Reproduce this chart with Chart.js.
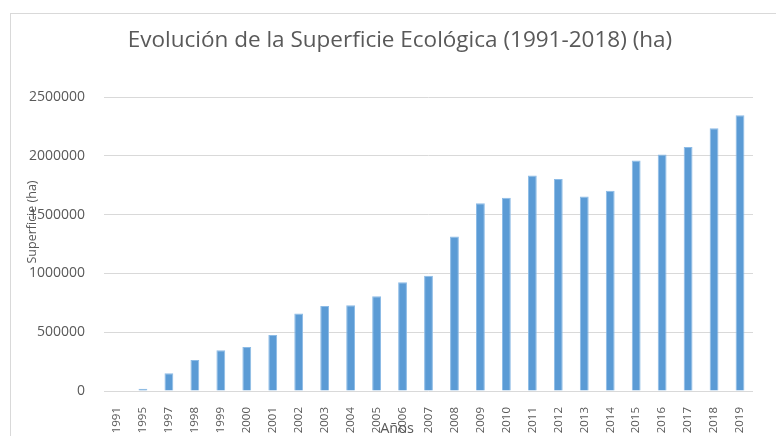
<!DOCTYPE html>
<html>
<head>
<meta charset="utf-8">
<script src="https://cdn.jsdelivr.net/npm/chart.js@4/dist/chart.umd.min.js"></script>
<style>
    html, body { margin: 0; padding: 0; background: #fff; }
    #wrap { position: relative; width: 776px; height: 436px; overflow: hidden; }
    #frame { position: absolute; left: 10px; top: 13px; width: 800px; height: 500px; border: 1px solid #d9d9d9; }
    #chart { position: absolute; left: 0; top: 0; }
</style>
</head>
<body>
<div id="wrap">
    <div id="frame"></div>
    <canvas id="chart" width="776" height="436"></canvas>
</div>
<script>
const years = [
    "1991", "1995", "1997", "1998", "1999", "2000", "2001", "2002", "2003", "2004",
    "2005", "2006", "2007", "2008", "2009", "2010", "2011", "2012", "2013", "2014",
    "2015", "2016", "2017", "2018", "2019"
]

// superficie en hectáreas
const superficie = [
    0, 20000, 150000, 263000, 347000, 375000, 477000, 658000, 723000, 729000,
    805000, 924000, 980000, 1313000, 1596000, 1644000, 1833000, 1803000, 1653000, 1703000,
    1960000, 2011000, 2074000, 2235000, 2345000
]

const yTicks = [0, 500000, 1000000, 1500000, 2000000, 2500000]

const titulo = "Evolución de la Superficie Ecológica (1991-2018) (ha)"
const tituloY = "Superficie (ha)"
const tituloX = "Años"

const gris = "#595959"
const fuente = "'Open Sans', 'Noto Sans', sans-serif"

// título y títulos de ejes, centrados en el marco como en el original
const textos = {
    id: "textos",
    afterDraw(chart) {
        const ctx = chart.ctx
        ctx.save()
        ctx.fillStyle = gris
        ctx.textAlign = "center"
        ctx.textBaseline = "middle"

        ctx.font = "22.5px " + fuente
        ctx.fillText(titulo, 400, 41)

        ctx.font = "14.5px " + fuente
        ctx.fillText(tituloX, 397, 429)

        ctx.font = "12.5px " + fuente
        ctx.translate(32, 222)
        ctx.rotate(-Math.PI / 2)
        ctx.fillText(tituloY, 0, 0)
        ctx.restore()
    }
}

new Chart(document.getElementById("chart"), {
    type: "bar",
    data: {
        labels: years,
        datasets: [{
            data: superficie,
            backgroundColor: "#5b9bd5",
            borderColor: "#8cbbe6",
            borderWidth: { top: 1, left: 1, right: 1, bottom: 0 },
            barPercentage: 0.34,
            categoryPercentage: 1
        }]
    },
    options: {
        responsive: false,
        animation: false,
        devicePixelRatio: 1,
        layout: {
            padding: { left: 0, right: 23, top: 97, bottom: 0 }
        },
        scales: {
            x: {
                grid: { display: false },
                border: { display: false },
                ticks: {
                    color: gris,
                    font: { family: fuente, size: 11.5 },
                    minRotation: 90,
                    maxRotation: 90,
                    autoSkip: false,
                    padding: 8
                },
                afterFit(scale) { scale.height = 45 }
            },
            y: {
                min: 0,
                max: 2500000,
                afterBuildTicks(scale) { scale.ticks = yTicks.map(v => ({ value: v })) },
                grid: { color: "#d9d9d9", drawTicks: false },
                border: { display: false },
                ticks: {
                    color: gris,
                    font: { family: fuente, size: 14 },
                    padding: 19,
                    callback: v => String(v)
                },
                afterFit(scale) { scale.width = 104 }
            }
        },
        plugins: {
            legend: { display: false },
            tooltip: { enabled: false },
            title: { display: false }
        }
    },
    plugins: [textos]
})
</script>
</body>
</html>
